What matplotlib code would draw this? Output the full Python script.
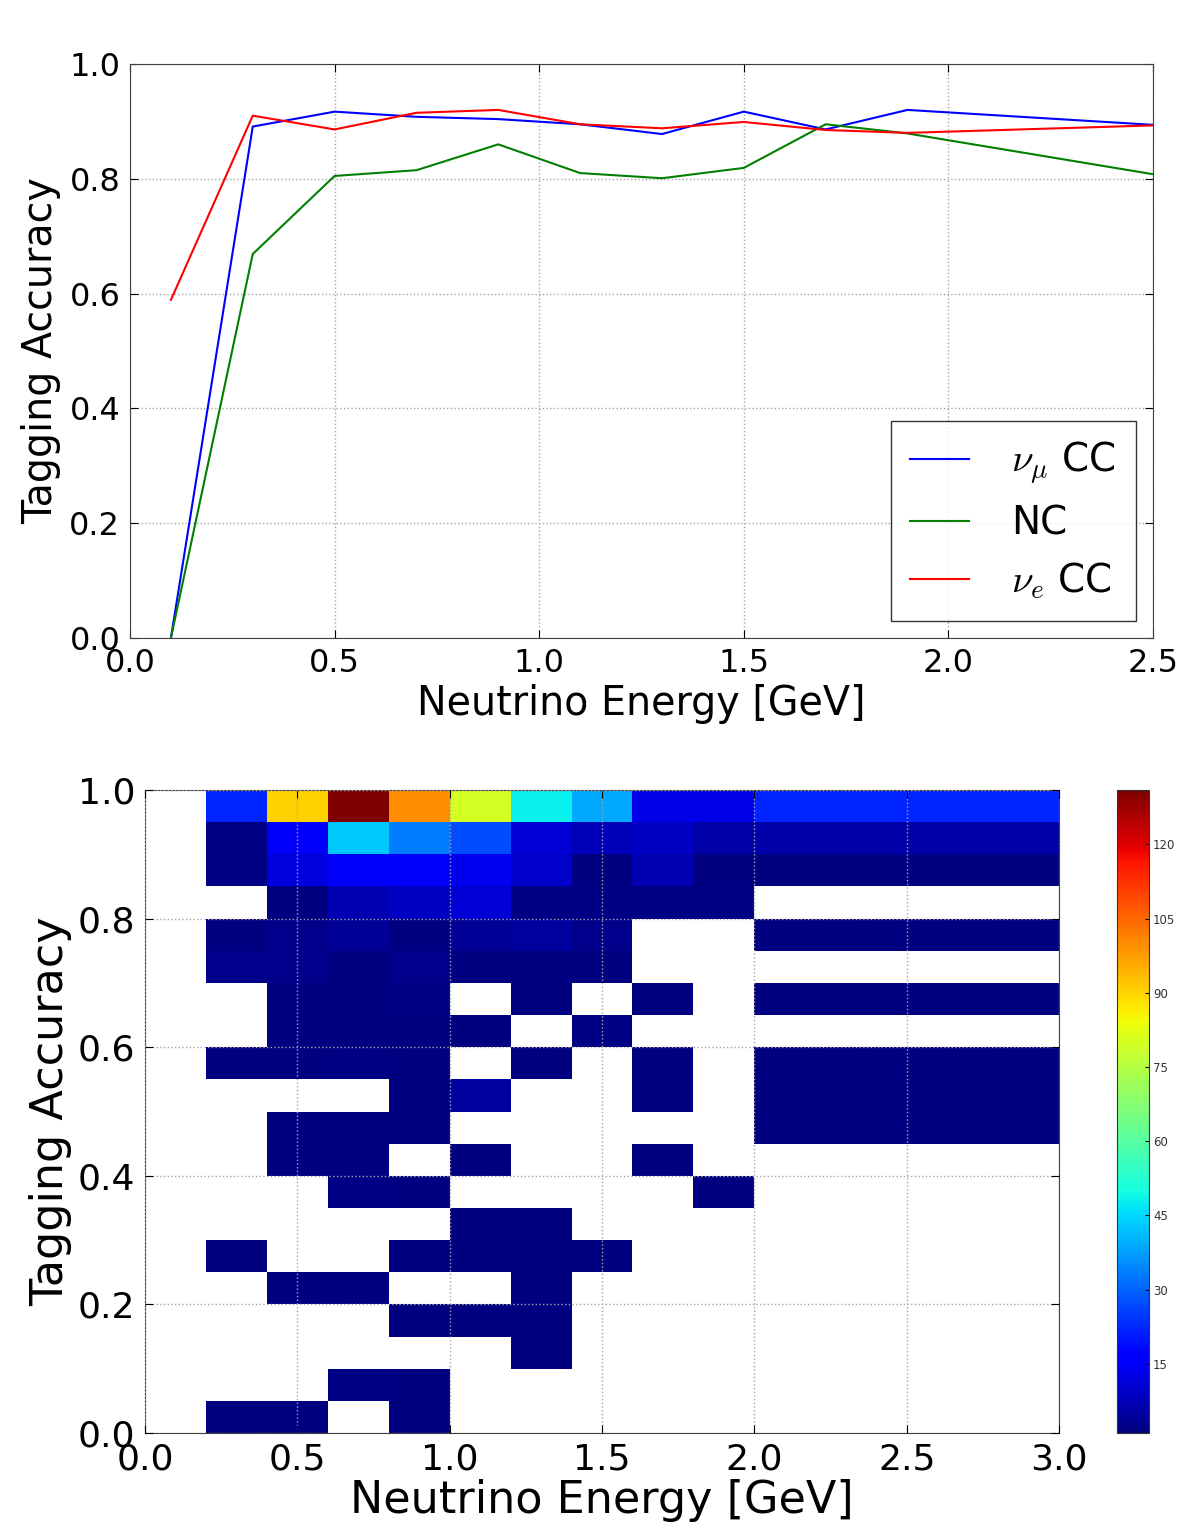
import numpy as np
import matplotlib
matplotlib.use('Agg')
import matplotlib.pyplot as plt

# Tagging accuracy per energy bin (bin centres in GeV)
energy = [0.1, 0.3, 0.5, 0.7, 0.9, 1.1, 1.3, 1.5, 1.7, 1.9, 2.5]
acc_numu = [0.0, 0.891, 0.917, 0.908, 0.904, 0.895, 0.878, 0.917, 0.886, 0.920, 0.894]
acc_nc = [0.0, 0.669, 0.805, 0.815, 0.860, 0.810, 0.801, 0.819, 0.895, 0.879, 0.808]
acc_nue = [0.589, 0.910, 0.886, 0.915, 0.920, 0.895, 0.888, 0.899, 0.885, 0.880, 0.893]

# 2D histogram: energy bin edges, accuracy bin edges (top -> bottom), counts
e_edges = [0.0, 0.2, 0.4, 0.6, 0.8, 1.0, 1.2, 1.4, 1.6, 1.8, 2.0, 3.0]
acc_edges = [1.0, 0.95, 0.9, 0.85, 0.8, 0.75, 0.7, 0.65, 0.6, 0.55, 0.5,
             0.45, 0.4, 0.35, 0.3, 0.25, 0.2, 0.15, 0.1, 0.05, 0.0]
counts = [
    [0, 22, 90, 131, 100, 80, 48, 39, 13, 13, 22],
    [0, 2, 15, 43, 33, 27, 11, 8, 9, 6, 6],
    [0, 2, 12, 15, 15, 14, 10, 1, 7, 1, 1],
    [0, 0, 1, 7, 9, 11, 2, 2, 2, 2, 0],
    [0, 1, 3, 4, 1, 4, 5, 3, 0, 0, 1],
    [0, 3, 3, 1, 3, 1, 1, 1, 0, 0, 0],
    [0, 0, 1, 1, 2, 0, 1, 0, 1, 0, 1],
    [0, 0, 1, 1, 1, 1, 0, 2, 0, 0, 0],
    [0, 1, 1, 2, 1, 0, 1, 0, 1, 0, 1],
    [0, 0, 0, 0, 1, 5, 0, 0, 1, 0, 1],
    [0, 0, 1, 1, 1, 0, 0, 0, 0, 0, 1],
    [0, 0, 1, 1, 0, 1, 0, 0, 1, 0, 0],
    [0, 0, 0, 2, 1, 0, 0, 0, 0, 1, 0],
    [0, 0, 0, 0, 0, 1, 1, 0, 0, 0, 0],
    [0, 1, 0, 0, 1, 1, 1, 1, 0, 0, 0],
    [0, 0, 1, 1, 0, 0, 1, 0, 0, 0, 0],
    [0, 0, 0, 0, 1, 1, 1, 0, 0, 0, 0],
    [0, 0, 0, 0, 0, 0, 1, 0, 0, 0, 0],
    [0, 0, 0, 2, 1, 0, 0, 0, 0, 0, 0],
    [0, 1, 1, 0, 1, 0, 0, 0, 0, 0, 0],
]
cbar_ticks = [15, 30, 45, 60, 75, 90, 105, 120]

plt.rcParams['font.family'] = 'DejaVu Sans'
plt.rcParams['mathtext.fontset'] = 'cm'

W, H = 1181, 1530
fig = plt.figure(figsize=(W / 100, H / 100), dpi=100)

def px_axes(l, t, r, b):
    return fig.add_axes([l / W, 1 - b / H, (r - l) / W, (b - t) / H])

def style_ax(ax, size):
    ax.grid(True, linestyle=':', color='0.65', linewidth=1)
    ax.tick_params(direction='in', top=True, right=True, length=6,
                   labelsize=size, pad=7)
    for s in ax.spines.values():
        s.set_color('0.25')

# Top: accuracy curves
ax1 = px_axes(130, 64, 1153, 638)
ax1.plot(energy, acc_numu, color='blue', lw=1.5, label=r'$\nu_\mu$ CC')
ax1.plot(energy, acc_nc, color='green', lw=1.5, label='NC')
ax1.plot(energy, acc_nue, color='red', lw=1.5, label=r'$\nu_e$ CC')
ax1.set_xlim(0, 2.5)
ax1.set_ylim(0, 1.0)
ax1.set_xticks(np.arange(0, 2.51, 0.5))
ax1.set_yticks(np.arange(0, 1.01, 0.2))
style_ax(ax1, 23)
ax1.set_xlabel('Neutrino Energy [GeV]', fontsize=28.5, labelpad=4)
ax1.set_ylabel('Tagging Accuracy', fontsize=28.5, labelpad=6)
leg = ax1.legend(loc='lower right', fontsize=28, fancybox=False,
                 handlelength=1.5, handletextpad=1.1, borderpad=0.5,
                 labelspacing=0.45, borderaxespad=0.45)
leg.get_frame().set_edgecolor('k')

# Bottom: 2D histogram
ax2 = px_axes(145, 790, 1059, 1433)
c = np.ma.masked_equal(np.array(counts, dtype=float), 0)
mesh = ax2.pcolormesh(e_edges, acc_edges, c, cmap='jet', vmin=1, vmax=131)
ax2.set_xlim(0, 3.0)
ax2.set_ylim(0, 1.0)
ax2.set_xticks(np.arange(0, 3.01, 0.5))
ax2.set_yticks(np.arange(0, 1.01, 0.2))
style_ax(ax2, 26)
ax2.set_axisbelow(False)
ax2.set_xlabel('Neutrino Energy [GeV]', fontsize=32, labelpad=2)
ax2.set_ylabel('Tagging Accuracy', fontsize=32, labelpad=4)

cax = px_axes(1117, 790, 1149, 1433)
cb = fig.colorbar(mesh, cax=cax, ticks=cbar_ticks)
cb.ax.tick_params(labelsize=8.5, length=3, direction='in', pad=3,
                  labelcolor='0.2')
cb.outline.set_edgecolor('0.2')

fig.savefig('out.png', dpi=100, facecolor='white')
